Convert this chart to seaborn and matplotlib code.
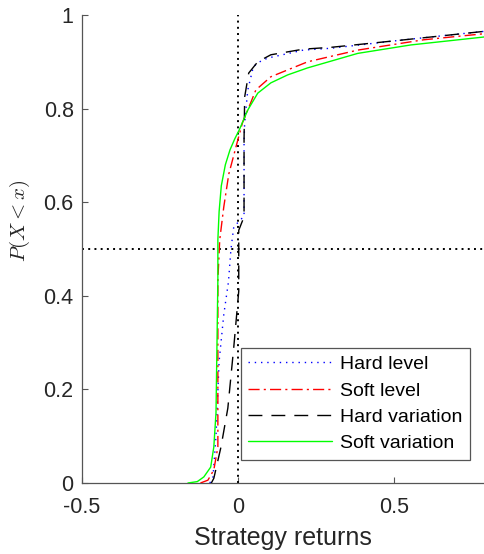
import numpy as np
import pandas as pd
import matplotlib
matplotlib.use("Agg")
import matplotlib.pyplot as plt
import seaborn as sns

# ---- data (CDF points: return, probability) ----
hard_level_x = [-0.09, -0.08, -0.07, -0.06, -0.045, -0.03, -0.022, -0.013, 0.005, 0.02, 0.02, 0.022, 0.032, 0.05, 0.07, 0.096, 0.21, 0.30, 0.52, 0.79]
hard_level_y = [0.0, 0.01, 0.10, 0.26, 0.36, 0.43, 0.50, 0.547, 0.56, 0.57, 0.73, 0.77, 0.84, 0.89, 0.90, 0.908, 0.925, 0.929, 0.946, 0.965]

soft_level_x = [-0.12, -0.096, -0.077, -0.064, -0.064, -0.064, -0.058, -0.045, -0.029, 0.0, 0.015, 0.032, 0.058, 0.106, 0.15, 0.224, 0.385, 0.596, 0.79]
soft_level_y = [0.0, 0.006, 0.028, 0.077, 0.20, 0.434, 0.52, 0.59, 0.66, 0.733, 0.77, 0.797, 0.84, 0.868, 0.88, 0.90, 0.925, 0.947, 0.96]

hard_var_x = [-0.085, -0.077, -0.054, -0.032, -0.013, 0.003, 0.003, 0.016, 0.02, 0.02, 0.022, 0.035, 0.064, 0.106, 0.21, 0.30, 0.52, 0.79]
hard_var_y = [0.0, 0.01, 0.077, 0.16, 0.29, 0.41, 0.54, 0.562, 0.57, 0.733, 0.825, 0.876, 0.90, 0.915, 0.927, 0.931, 0.946, 0.965]

soft_var_x = [-0.16, -0.13, -0.109, -0.087, -0.077, -0.07, -0.067, -0.064, -0.064, -0.060, -0.053, -0.040, -0.025, -0.010, 0.005, 0.032, 0.064, 0.106, 0.16, 0.224, 0.276, 0.385, 0.555, 0.79]
soft_var_y = [0.0, 0.003, 0.013, 0.034, 0.077, 0.15, 0.29, 0.434, 0.52, 0.58, 0.635, 0.68, 0.712, 0.735, 0.755, 0.797, 0.833, 0.855, 0.872, 0.887, 0.897, 0.918, 0.936, 0.953]

series_names = ["Hard level", "Soft level", "Hard variation", "Soft variation"]
x_ticks = [-0.5, 0, 0.5]
x_tick_labels = ["-0.5", "0", "0.5"]
y_ticks = [0, 0.2, 0.4, 0.6, 0.8, 1]
y_tick_labels = ["0", "0.2", "0.4", "0.6", "0.8", "1"]

frames = []
for name, xs, ys in zip(series_names,
                        [hard_level_x, soft_level_x, hard_var_x, soft_var_x],
                        [hard_level_y, soft_level_y, hard_var_y, soft_var_y]):
    frames.append(pd.DataFrame({"ret": xs, "p": ys, "series": name, "order": range(len(xs))}))
df = pd.concat(frames, ignore_index=True)

sns.set_theme(style="ticks")
plt.rcParams["font.family"] = ["Liberation Sans", "DejaVu Sans"]
plt.rcParams["mathtext.fontset"] = "cm"

fig = plt.figure(figsize=(4.84, 5.54), dpi=100)
ax = fig.add_axes([82 / 484, (554 - 483) / 554, 1 - 82 / 484, 468 / 554])

# reference lines
ax.axvline(0, ymin=0, ymax=1, color="black", lw=1.4, linestyle=(0, (1, 2.2)), zorder=1)
ax.axhline(0.5, color="black", lw=1.4, linestyle=(0, (1, 2.2)), zorder=1)

styles = {
    "Hard level": dict(color="#0000ff", linestyle=(0, (1, 3.5))),
    "Soft level": dict(color="#ff0000", linestyle=(0, (8, 3, 1.5, 3))),
    "Hard variation": dict(color="black", linestyle=(0, (10, 6.5))),
    "Soft variation": dict(color="#00ff00", linestyle="-"),
}
for name in series_names:
    sub = df[df["series"] == name]
    sns.lineplot(data=sub, x="ret", y="p", ax=ax, sort=False, estimator=None,
                 label=name, lw=1.0, **styles[name], zorder=3)

ax.set_xlim(-0.5, 0.79)
ax.set_ylim(0, 1)
ax.set_xticks(x_ticks)
ax.set_xticklabels(x_tick_labels)
ax.set_yticks(y_ticks)
ax.set_yticklabels(y_tick_labels)

for s in ["top", "right"]:
    ax.spines[s].set_visible(False)
for s in ["left", "bottom"]:
    ax.spines[s].set_color("#555555")
    ax.spines[s].set_linewidth(0.9)

ax.tick_params(direction="in", length=4, width=0.8, color="#555555",
               labelsize=15.5, labelcolor="#262626")
ax.tick_params(axis="x", pad=10)
ax.tick_params(axis="y", pad=6)

ax.set_xlabel("Strategy returns", fontsize=18, color="#262626", labelpad=6)
ax.set_ylabel(r"$P(X < x)$", fontsize=15, color="#262626")
ax.yaxis.set_label_coords(-0.125, 0.56)

leg = ax.legend(loc="lower right", bbox_to_anchor=(0.965, 0.049), borderaxespad=0,
                fontsize=14, frameon=True, fancybox=False, framealpha=1,
                handlelength=4.3, handletextpad=0.4, labelspacing=0.45,
                borderpad=0.4)
leg.get_frame().set_edgecolor("#555555")
leg.get_frame().set_linewidth(0.9)
for t in leg.get_texts():
    t.set_color("black")

fig.savefig("out.png", dpi=100)
